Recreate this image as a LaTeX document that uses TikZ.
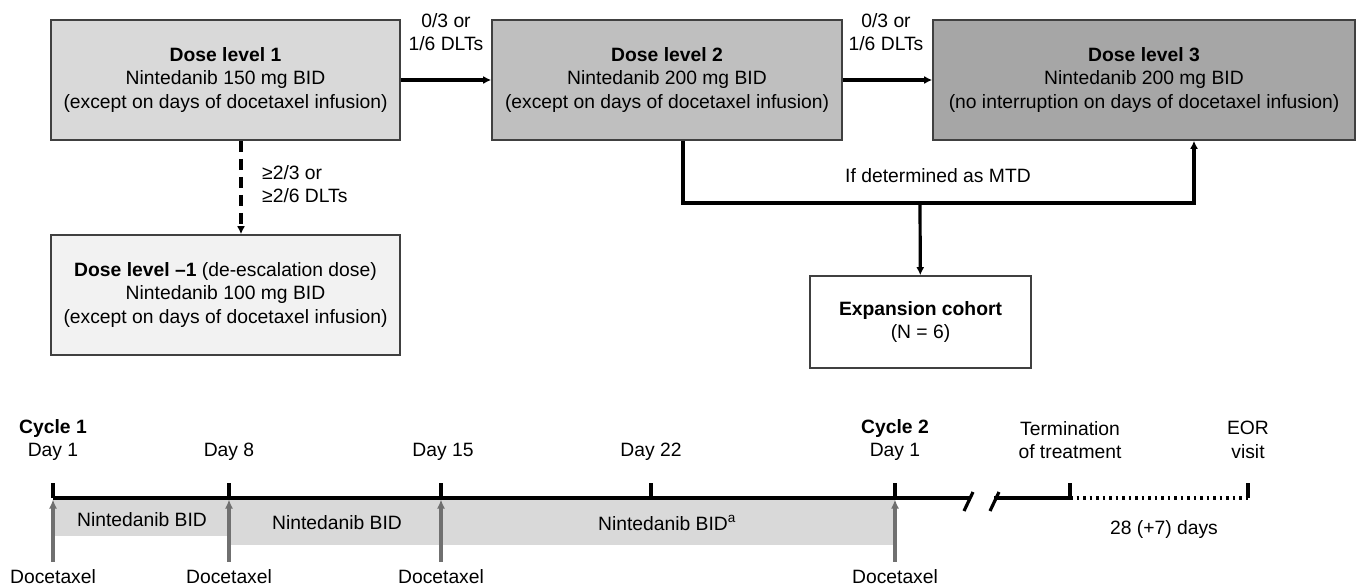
\documentclass[tikz,border=0pt]{standalone}
\usepackage{fontspec}
\setmainfont{Liberation Sans}
\usetikzlibrary{arrows.meta,positioning}
\definecolor{lvlone}{HTML}{D9D9D9}
\definecolor{lvltwo}{HTML}{BFBFBF}
\definecolor{lvlthree}{HTML}{A6A6A6}
\definecolor{lvlminus}{HTML}{F2F2F2}
\definecolor{doccol}{HTML}{707070}

\begin{document}
\begin{tikzpicture}[
        x                 = 1pt,
        y                 = -1pt,
        font              = \fontsize{19.3}{23.5}\selectfont,
        box/.style        = {draw=black!75, line width=1.6pt, minimum height=120pt, inner sep=0pt, align=center},
        conn/.style       = {line width=3.2pt, -{Latex[length=8pt,width=8pt]}},
        axis/.style       = {line width=3.2pt},
        tick/.style       = {line width=3.2pt},
        doce/.style       = {doccol, line width=3.4pt, -{Latex[length=9pt,width=8pt]}},
        band/.style       = {fill=lvlone},
        lbl/.style        = {align=center, inner sep=0pt},
        % note/.style     = {align=left},
      ]
    \useasboundingbox[fill=white] (0,0) rectangle (1357,587);

    % dose escalation
    \node[box, fill=lvlone, minimum width=349pt] (lvl1) at (225.5,80)
        {\textbf{Dose level 1}\\Nintedanib 150 mg BID\\(except on days of docetaxel infusion)};
    \node[box, fill=lvltwo, minimum width=350pt] (lvl2) at (667,80)
        {\textbf{Dose level 2}\\Nintedanib 200 mg BID\\(except on days of docetaxel infusion)};
    \node[box, fill=lvlthree, minimum width=422pt] (lvl3) at (1144,80)
        {\textbf{Dose level 3}\\Nintedanib 200 mg BID\\(no interruption on days of docetaxel infusion)};
    \node[box, fill=lvlminus, minimum width=349pt] (lvlm) at (225.5,295)
        {\textbf{Dose level --1} (de-escalation dose)\\Nintedanib 100 mg BID\\(except on days of docetaxel infusion)};
    \node[box, fill=white, minimum width=221pt, minimum height=92pt] (expo) at (920.5,322)
        {\textbf{Expansion cohort}\\(N = 6)};

    \draw[conn] (lvl1) -- (lvl2);
    \draw[conn] (lvl2) -- (lvl3);
    \node[lbl] (up1) at (446,32) {0/3 or\\1/6 DLTs};
    \node[lbl] (up2) at (886,32) {0/3 or\\1/6 DLTs};

    \draw[conn, dash pattern=on 11pt off 7pt] ([xshift=15.5pt]lvl1.south) -- ([xshift=15.5pt]lvlm.north);
    \node[lbl, align=left, anchor=west] (down) at (262,184) {≥2/3 or\\≥2/6 DLTs};

    \coordinate (mtd) at (920,203);
    \draw[conn] ([xshift=16pt]lvl2.south) |- (mtd) -| ([xshift=50pt]lvl3.south);
    \draw[conn] (mtd) -- (expo);
    \node[lbl] (mtdtxt) at (938,176) {If determined as MTD};

    % treatment schedule
    \foreach \nm/\xx in {d1/53, d8/229, d15/441, d22/651, c2/895, term/1070, eor/1248}
        \coordinate (\nm) at (\xx,498);
    \coordinate (brka) at (969,498);
    \coordinate (brkb) at (994,498);

    \fill[band] (53,498) rectangle (229,536);
    \fill[band] (229,498) rectangle (895,545);

    \draw[axis] (d1) -- (brka);
    \draw[axis] (brkb) -- (term);
    \draw[axis, dash pattern=on 2.5pt off 4pt] (term) -- (eor);
    \draw[axis] ([shift={(-5,13)}]brka) -- ([shift={(4,-6)}]brka);
    \draw[axis] ([shift={(-4,13)}]brkb) -- ([shift={(5,-6)}]brkb);
    \foreach \nm in {d1,d8,d15,d22,c2,term,eor}
        \draw[tick] (\nm) -- ++(0,-15);

    \foreach \nm in {d1,d8,d15,c2} {
        \node[lbl] (doc-\nm) at (\nm |- 0,577) {Docetaxel};
        \draw[doce, shorten >=1.5pt] ([yshift=8pt]doc-\nm.north) -- (\nm);
    }

    \node[lbl] (day1)  at (53,440)   {\textbf{Cycle 1}\\Day 1};
    \node[lbl] (day8)  at (229,452)  {Day 8};
    \node[lbl] (day15) at (443,452)  {Day 15};
    \node[lbl] (day22) at (651,452)  {Day 22};
    \node[lbl] (cyc2)  at (895,440)  {\textbf{Cycle 2}\\Day 1};
    \node[lbl] (stop)  at (1070,440) {Termination\\of treatment};
    \node[lbl] (visit) at (1248,440) {EOR\\visit};

    \node[lbl] (bid1) at (142,520) {Nintedanib BID};
    \node[lbl] (bid2) at (337,523) {Nintedanib BID};
    \node[lbl] (bid3) at (667,523) {Nintedanib BID\textsuperscript{a}};
    \node[lbl] (fup)  at (1164,530) {28 (+7) days};
\end{tikzpicture}
\end{document}
